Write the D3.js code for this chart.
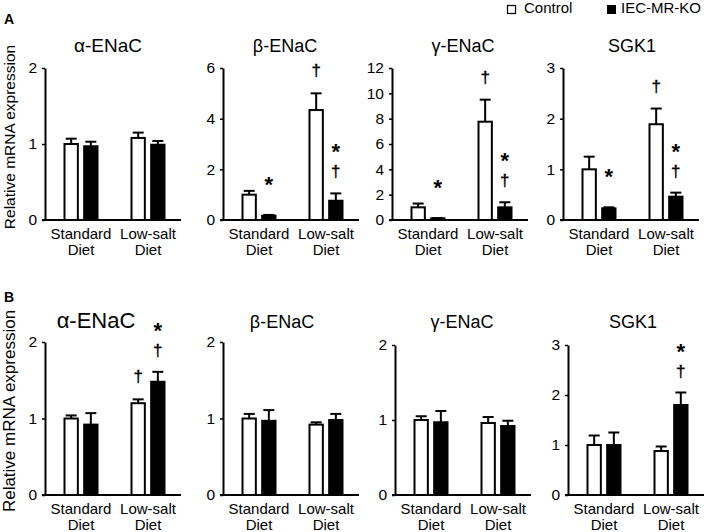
<!DOCTYPE html>
<html>
<head>
<meta charset="utf-8">
<script src="https://cdn.jsdelivr.net/npm/d3@7"></script>
<style>
  body { margin: 0; background: #fff; }
  text { font-family: "Liberation Sans", Arial, sans-serif; fill: #000; }
</style>
</head>
<body>
<div id="chart"></div>
<script>
// categories
const genes = ['α-ENaC', 'β-ENaC', 'γ-ENaC', 'SGK1'];
const diets = ['Standard', 'Low-salt'];
const dietLines = [['Standard', 'Diet'], ['Low-salt', 'Diet']];
const series = ['Control', 'IEC-MR-KO'];

// panel A (values per gene: [standard, low-salt])
const yMaxA = [2, 6, 12, 3];
const tickStepA = [1, 2, 2, 1];
const controlA = [[1.00, 1.08], [1.00, 4.34], [1.00, 7.76], [1.00, 1.89]];
const koA      = [[0.97, 0.99], [0.17, 0.76], [0.13, 1.00], [0.23, 0.46]];
const controlErrA = [[0.07, 0.07], [0.15, 0.66], [0.30, 1.74], [0.25, 0.31]];
const koErrA      = [[0.06, 0.05], [0.03, 0.29], [0.02, 0.40], [0.02, 0.08]];
// [gene, diet, series, marks]
const marksA = [
  [1, 0, 1, '*'], [1, 1, 0, '†'], [1, 1, 1, '*†'],
  [2, 0, 1, '*'], [2, 1, 0, '†'], [2, 1, 1, '*†'],
  [3, 0, 1, '*'], [3, 1, 0, '†'], [3, 1, 1, '*†']
];

// panel B
const yMaxB = [2, 2, 2, 3];
const tickStepB = [1, 1, 1, 1];
const controlB = [[1.00, 1.20], [1.00, 0.92], [1.00, 0.96], [1.00, 0.88]];
const koB      = [[0.92, 1.48], [0.97, 0.98], [0.97, 0.92], [1.00, 1.80]];
const controlErrB = [[0.04, 0.05], [0.06, 0.03], [0.05, 0.08], [0.19, 0.09]];
const koErrB      = [[0.15, 0.13], [0.14, 0.08], [0.15, 0.07], [0.25, 0.25]];
const marksB = [
  [0, 1, 0, '†'], [0, 1, 1, '*†'],
  [3, 1, 1, '*†']
];

const svg = d3.select('#chart')
  .append('svg')
  .attr('width', 709)
  .attr('height', 532);

// layout of the two rows
const rows = [
  { letter: 'A', letterY: 24, zeroY: 220, topY: [68, 68, 68, 68], axisX: [45, 223, 392, 563],
    titleY: 52, titleDx: [63, 62, 71, 69], titleSize: [19, 18, 18, 18],
    labelY: 137, labelSize: 15.5,
    yMax: yMaxA, step: tickStepA, ctrl: controlA, ko: koA, ctrlErr: controlErrA, koErr: koErrA, marks: marksA },
  { letter: 'B', letterY: 302, zeroY: 495, topY: [342, 342, 345, 345], axisX: [45, 223, 395, 568],
    titleY: 328, titleDx: [51, 59, 67, 65], titleSize: [22, 18, 18, 18],
    labelY: 411, labelSize: 17,
    yMax: yMaxB, step: tickStepB, ctrl: controlB, ko: koB, ctrlErr: controlErrB, koErr: koErrB, marks: marksB }
];

rows.forEach(row => {
  svg.append('text')
    .attr('x', 4)
    .attr('y', row.letterY)
    .style('font-size', '14px')
    .style('font-weight', 'bold')
    .text(row.letter);

  svg.append('text')
    .attr('transform', `translate(15,${row.labelY}) rotate(-90)`)
    .attr('text-anchor', 'middle')
    .style('font-size', row.labelSize + 'px')
    .text('Relative mRNA expression');

  genes.forEach((gene, gi) => drawPanel(row, gene, gi));
});

function drawPanel(row, gene, gi) {
  const ax = row.axisX[gi];
  const zero = row.zeroY;

  const y = d3.scaleLinear()
    .domain([0, row.yMax[gi]])
    .range([zero, row.topY[gi]]);

  const xGroup = d3.scalePoint()
    .domain(diets)
    .range([ax + 36, ax + 103]);

  const xSeries = d3.scaleBand()
    .domain(series)
    .range([-17.5, 17.5])
    .paddingInner(0.22);

  const g = svg.append('g');

  // title
  g.append('text')
    .attr('x', ax + row.titleDx[gi])
    .attr('y', row.titleY)
    .attr('text-anchor', 'middle')
    .style('font-size', row.titleSize[gi] + 'px')
    .text(gene);

  // y axis
  const yAxis = d3.axisLeft(y)
    .tickValues(d3.range(0, row.yMax[gi] + 0.001, row.step[gi]))
    .tickSize(3)
    .tickSizeOuter(0)
    .tickPadding(5)
    .tickFormat(d3.format('d'));

  const axG = g.append('g')
    .attr('transform', `translate(${ax},0)`)
    .call(yAxis);
  axG.select('.domain').attr('stroke', '#000').attr('stroke-width', 2);
  axG.selectAll('.tick line').attr('stroke', '#000').attr('stroke-width', 1.5);
  axG.selectAll('.tick text')
    .style('font-size', '15.5px')
    .style('font-family', '"Liberation Sans", Arial, sans-serif')
    .attr('fill', '#000');

  // bars
  const bars = [];
  diets.forEach((d, di) => {
    series.forEach((s, si) => {
      const mean = si === 0 ? row.ctrl[gi][di] : row.ko[gi][di];
      const err = si === 0 ? row.ctrlErr[gi][di] : row.koErr[gi][di];
      bars.push({ diet: d, di: di, series: s, si: si, mean: mean, err: err });
    });
  });

  const bw = xSeries.bandwidth();
  const cx = d => xGroup(d.diet) + xSeries(d.series) + bw / 2;

  // error bars (upper only)
  g.selectAll('line.err')
    .data(bars)
    .enter()
    .append('line')
      .attr('class', 'err')
      .attr('x1', cx)
      .attr('x2', cx)
      .attr('y1', d => y(d.mean))
      .attr('y2', d => y(d.mean + d.err))
      .attr('stroke', '#000')
      .attr('stroke-width', 2);

  g.selectAll('line.cap')
    .data(bars)
    .enter()
    .append('line')
      .attr('class', 'cap')
      .attr('x1', d => cx(d) - 5.5)
      .attr('x2', d => cx(d) + 5.5)
      .attr('y1', d => y(d.mean + d.err))
      .attr('y2', d => y(d.mean + d.err))
      .attr('stroke', '#000')
      .attr('stroke-width', 2);

  g.selectAll('rect.bar')
    .data(bars)
    .enter()
    .append('rect')
      .attr('class', 'bar')
      .attr('x', d => xGroup(d.diet) + xSeries(d.series) + 1)
      .attr('y', d => y(d.mean))
      .attr('width', bw - 2)
      .attr('height', d => Math.max(0, zero - y(d.mean)))
      .attr('fill', d => d.si === 0 ? '#fff' : '#000')
      .attr('stroke', '#000')
      .attr('stroke-width', 2);

  // x axis baseline
  g.append('line')
    .attr('x1', ax - 3)
    .attr('x2', ax + 136)
    .attr('y1', zero)
    .attr('y2', zero)
    .attr('stroke', '#000')
    .attr('stroke-width', 2);

  // category labels
  dietLines.forEach((lines, di) => {
    lines.forEach((t, li) => {
      g.append('text')
        .attr('x', xGroup(diets[di]))
        .attr('y', zero + 19 + li * 16)
        .attr('text-anchor', 'middle')
        .style('font-size', '15px')
        .text(t);
    });
  });

  // significance marks
  row.marks.filter(m => m[0] === gi).forEach(m => {
    const b = bars.find(d => d.di === m[1] && d.si === m[2]);
    const top = y(b.mean + b.err);
    const chars = m[3].split('').reverse();
    chars.forEach((c, k) => {
      let centre;
      if (chars.length === 1) centre = top - (c === '*' ? 34 : 22);
      else centre = top - 21 - k * 24;
      g.append('text')
        .attr('x', cx(b))
        .attr('y', c === '*' ? centre + 11 : centre + 5)
        .attr('text-anchor', 'middle')
        .style('font-size', c === '*' ? '22px' : '17px')
        .style('font-weight', c === '*' ? 'bold' : 'normal')
        .style('stroke', '#000')
        .style('stroke-width', c === '*' ? 0 : 0.35)
        .text(c);
    });
  });
}

// legend
const legend = svg.append('g');
legend.append('rect')
  .attr('x', 507.5).attr('y', 5.5)
  .attr('width', 8).attr('height', 8)
  .attr('fill', '#fff').attr('stroke', '#000').attr('stroke-width', 1.2);
legend.append('text')
  .attr('x', 524).attr('y', 13)
  .style('font-size', '15px')
  .text(series[0]);
legend.append('rect')
  .attr('x', 607).attr('y', 5)
  .attr('width', 9).attr('height', 9)
  .attr('fill', '#000');
legend.append('text')
  .attr('x', 621).attr('y', 13)
  .style('font-size', '15px')
  .text(series[1]);
</script>
</body>
</html>
